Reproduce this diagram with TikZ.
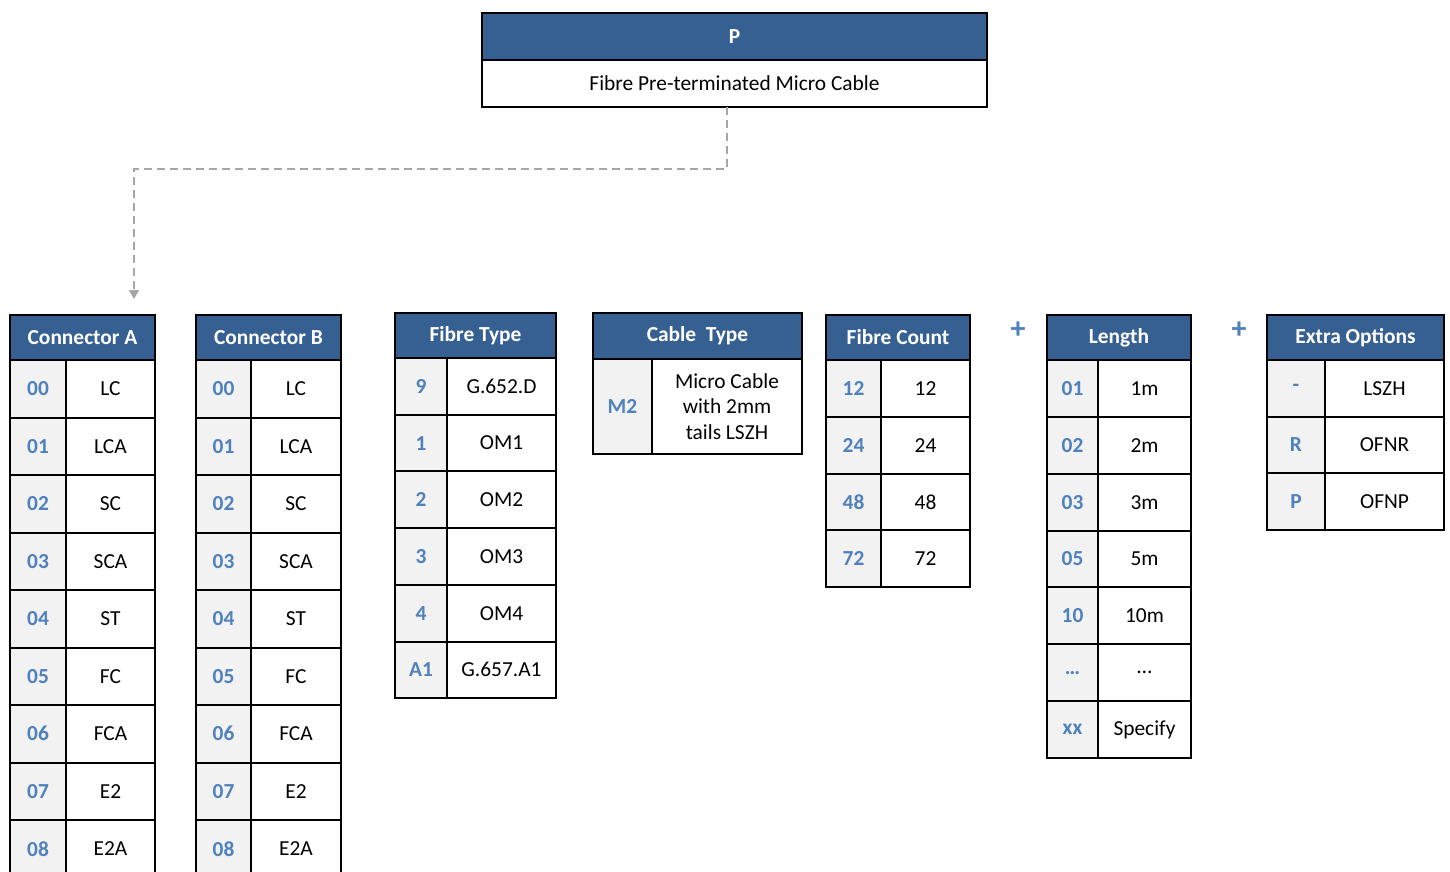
\documentclass[tikz,border=0pt]{standalone}
\usepackage{fontspec}
\setmainfont{Carlito}
\usetikzlibrary{arrows.meta}
\definecolor{hdrblue}{HTML}{366092}
\definecolor{codeblue}{HTML}{4F81BD}
\definecolor{codegray}{HTML}{F2F2F2}
\definecolor{dashgray}{HTML}{A6A6A6}
\tikzset{
 cellbase/.style={draw=black, line width=2pt, inner sep=0pt, anchor=north west, font=\fontsize{21.4}{25.5}\selectfont},
 headcell/.style={cellbase, fill=hdrblue, text=white, font=\fontsize{21.4}{25.5}\selectfont\bfseries},
 codecell/.style={cellbase, fill=codegray, text=codeblue, font=\fontsize{21.4}{25.5}\selectfont\bfseries},
 valcell/.style={cellbase, fill=white, text=black, align=center},
 link/.style={dashgray, line width=1.6pt, dash pattern=on 8pt off 5pt, -{Triangle[width=10pt,length=9pt]}},
 plus/.style={text=codeblue, font=\fontsize{30}{30}\selectfont\bfseries, inner sep=0pt},
}
\newcommand\codetable[9]{%
 \node[headcell, minimum width={#4-#2}, minimum height={#6-#5}] (#1-h) at (#2,#5) {#8};
 \foreach \c/\v [count=\i from 0] in {#9}{%
  \pgfmathsetmacro\yy{#6+\i*#7}
  \node[codecell, minimum width={#3-#2}, minimum height={#7}] (#1-c\i) at (#2,\yy) {\c};
  \node[valcell, minimum width={#4-#3}, minimum height={#7}] (#1-v\i) at (#3,\yy) {\v};
 }%
}
\begin{document}
\begin{tikzpicture}[x=1pt,y=-1pt]
\useasboundingbox (0,0) rectangle (1450,872);
\fill[white] (0,0) rectangle (1450,872);
\clip (0,0) rectangle (1450,872);
% top box
\node[headcell, minimum width=505, minimum height=47] (ph) at (481,12) {P};
\node[valcell, minimum width=505, minimum height=47] (pb) at (481,59) {Fibre Pre-terminated Micro Cable};
% tables
\codetable{ca}{9}{65}{154}{314}{359}{57.5}{Connector A}{00/LC,01/LCA,02/SC,03/SCA,04/ST,05/FC,06/FCA,07/E2,08/E2A}
\codetable{cb}{195}{250}{340}{314}{359}{57.5}{Connector B}{00/LC,01/LCA,02/SC,03/SCA,04/ST,05/FC,06/FCA,07/E2,08/E2A}
\codetable{ft}{394}{446}{555}{312}{357}{56.7}{Fibre Type}{9/G.652.D,1/OM1,2/OM2,3/OM3,4/OM4,A1/G.657.A1}
\codetable{ct}{592}{651}{801}{312}{358}{95}{Cable~ Type}{M2/Micro Cable\\with 2mm\\tails LSZH}
\codetable{fc}{825}{880}{969}{314}{359}{56.75}{Fibre Count}{12/12,24/24,48/48,72/72}
\codetable{ln}{1046}{1097}{1190}{314}{359}{56.85}{Length}{01/1m,02/2m,03/3m,05/5m,10/10m,…/…,xx/Specify}
\codetable{eo}{1266}{1324}{1443}{314}{359}{56.7}{Extra Options}{-/LSZH,R/OFNR,P/OFNP}
% plus signs
\node[plus] (plus1) at (1018,330) {+};
\node[plus] (plus2) at (1239,330) {+};
% connector
\coordinate (pout) at (727,107);
\coordinate (ain) at (134,299);
\draw[link] (pout) -- ++(0,62) -| (ain);
\end{tikzpicture}
\end{document}
